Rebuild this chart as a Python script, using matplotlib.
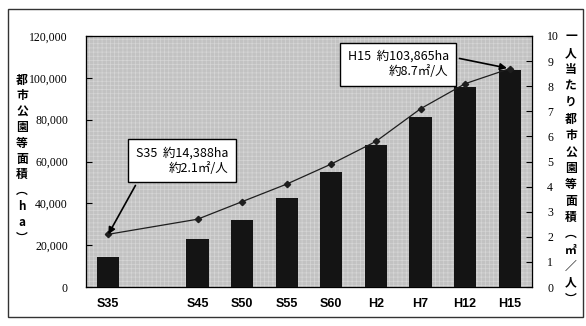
import matplotlib.pyplot as plt
import numpy as np
from matplotlib.patches import Rectangle
from matplotlib.ticker import FuncFormatter

# 年度（S40 は欠測のため空き枠）
slots = ['S35', '', 'S45', 'S50', 'S55', 'S60', 'H2', 'H7', 'H12', 'H15']
years = ['S35', 'S45', 'S50', 'S55', 'S60', 'H2', 'H7', 'H12', 'H15']
# 都市公園等面積 (ha)
area_ha = [14388, 22800, 32000, 42700, 54900, 68000, 81500, 95600, 103865]
# 一人当たり都市公園等面積 (㎡/人)
per_person = [2.1, 2.7, 3.4, 4.1, 4.9, 5.8, 7.1, 8.1, 8.7]

plt.rcParams['font.family'] = ['Noto Sans CJK JP', 'DejaVu Sans']
plt.rcParams['hatch.linewidth'] = 0.5

W, H = 586, 326
fig = plt.figure(figsize=(W / 100, H / 100), dpi=100)
ax = fig.add_axes([86 / W, 1 - 287 / H, 446 / W, 251 / H])

x = np.array([slots.index(y) for y in years])

# halftone-like background of the plot area
ax.set_facecolor('#c2c2c2')
ax.add_patch(Rectangle((0, 0), 1, 1, transform=ax.transAxes, fill=False,
                       hatch='++++', ec='#d6d6d6', lw=0, zorder=0.5))

# bars: park area
ax.bar(x, area_ha, width=0.5, color='#141414', zorder=2)
ax.set_xlim(-0.5, len(slots) - 0.5)
ax.set_ylim(0, 120000)
ax.set_yticks(np.arange(0, 120001, 20000))
ax.yaxis.set_major_formatter(FuncFormatter(lambda v, p: f'{int(v):,}'))
ax.set_xticks(x)
ax.set_xticklabels(years, fontfamily='Liberation Sans', fontweight='bold')
ax.tick_params(axis='x', length=0, pad=8, labelsize=9)
ax.tick_params(axis='y', direction='in', length=4, pad=13, labelsize=8.5)
for lab in ax.get_yticklabels():
    lab.set_fontfamily('Liberation Serif')
for s in ax.spines.values():
    s.set_color('#333333')
    s.set_linewidth(0.9)

# line: area per person
ax2 = ax.twinx()
ax2.plot(x, per_person, color='#1e1e1e', lw=0.9, marker='D', ms=3.2, zorder=3)
ax2.set_ylim(0, 10)
ax2.set_yticks(range(11))
ax2.tick_params(direction='in', length=4, pad=11, labelsize=8.5)
for lab in ax2.get_yticklabels():
    lab.set_fontfamily('Liberation Serif')

box = dict(boxstyle='square,pad=0.6', fc='white', ec='black', lw=1)
ax2.annotate(f'{years[0]}  約{area_ha[0]:,}ha\n約{per_person[0]}㎡/人',
             xy=(x[0], per_person[0]), xytext=(0.215, 0.502),
             textcoords='axes fraction', ha='center', va='center',
             multialignment='right', fontsize=9, bbox=box,
             arrowprops=dict(arrowstyle='-|>', color='black', lw=1.2,
                             relpos=(0.06, 0), shrinkB=0, mutation_scale=10))
ax2.annotate(f'{years[-1]}  約{area_ha[-1]:,}ha\n約{per_person[-1]}㎡/人',
             xy=(x[-1], per_person[-1]), xytext=(0.70, 0.888),
             textcoords='axes fraction', ha='center', va='center',
             multialignment='right', fontsize=9, bbox=box,
             arrowprops=dict(arrowstyle='-|>', color='black', lw=1.2,
                             relpos=(1, 0.78), shrinkB=2, mutation_scale=10))

# vertical axis titles
left_chars = list('都市公園等面積') + ['︵', 'h', 'a', '︶']
for i, ch in enumerate(left_chars):
    fig.text(22 / W, 1 - (80 + i * 15.8) / H, ch, ha='center', va='center',
             fontsize=8.5, fontweight='bold')
right_chars = list('一人当たり都市公園等面積') + ['︵', '㎡', '／', '人', '︶']
for i, ch in enumerate(right_chars):
    fig.text(571 / W, 1 - (37 + i * 16.4) / H, ch, ha='center', va='center',
             fontsize=8.5, fontweight='bold')

# outer frame
fig.add_artist(Rectangle((8 / W, 1 - 317 / H), 575 / W, 308 / H,
                         transform=fig.transFigure, fill=False,
                         ec='#333333', lw=1))

fig.savefig('out.png', dpi=100)
